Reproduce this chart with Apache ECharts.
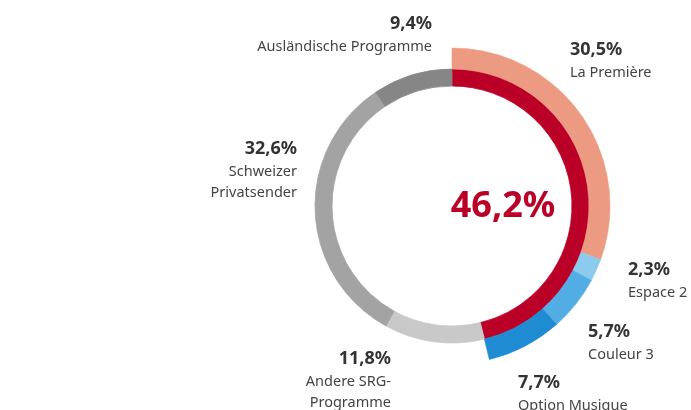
<!DOCTYPE html>
<html>
<head>
<meta charset="utf-8">
<script src="https://cdn.jsdelivr.net/npm/echarts@6/dist/echarts.min.js"></script>
<style>
  html, body { margin: 0; padding: 0; background: #fff; }
  #chart { width: 691px; height: 410px; }
</style>
</head>
<body>
<div id="chart"></div>
<script>
// Radionutzung – Anteile (Westschweiz)
var names = ['La Première', 'Espace 2', 'Couleur 3', 'Option Musique',
             'Andere SRG-\nProgramme', 'Schweizer\nPrivatsender', 'Ausländische Programme'];
var values = [30.5, 2.3, 5.7, 7.7, 11.8, 32.6, 9.4];
var isSrg = [true, true, true, true, false, false, false];

var srgColors = ['#ec9a82', '#8ccbee', '#52ade4', '#1e8bd2'];
var greyColors = ['#c9c9c9', '#a3a3a3', '#868686'];
var red = '#bb0027';

// label placement (x, y, align)
var labelPos = [
  [570, 37, 'left'],
  [628, 257, 'left'],
  [588, 319, 'left'],
  [518, 370, 'left'],
  [391, 346, 'right'],
  [297, 136, 'right'],
  [432, 11, 'right']
];

function fmt(v) { return v.toFixed(1).replace('.', ','); }

var srgTotal = 0;
values.forEach(function (v, i) { if (isSrg[i]) srgTotal += v; });

var inner = values.map(function (v, i) {
  var c = isSrg[i] ? red : greyColors[i - 4];
  return { value: v, name: names[i],
    itemStyle: { color: c, borderColor: c, borderWidth: 0.8 } };
});
var outer = values.map(function (v, i) {
  var c = isSrg[i] ? srgColors[i] : 'rgba(0,0,0,0)';
  return { value: v, name: names[i],
    itemStyle: { color: c, borderColor: c, borderWidth: isSrg[i] ? 0.6 : 0 } };
});

var chart = echarts.init(document.getElementById('chart'));
var option = {
  backgroundColor: '#fff',
  animation: false,
  textStyle: { fontFamily: 'Noto Sans' },
  series: [
    {
      type: 'pie',
      silent: true,
      center: [452, 206],
      radius: [120, 137],
      startAngle: 90,
      clockwise: true,
      label: { show: false },
      labelLine: { show: false },
      data: inner
    },
    {
      type: 'pie',
      silent: true,
      center: [452, 206],
      radius: [137, 158],
      startAngle: 90,
      clockwise: true,
      labelLine: { show: false },
      label: {
        show: true,
        overflow: 'none',
        formatter: function (p) { return '{p|' + fmt(p.value) + '%}\n' + p.name.split('\n').map(function (s) { return '{n|' + s + '}'; }).join('\n'); },
        rich: {
          p: { fontFamily: 'Noto Sans', fontSize: 18, fontWeight: 'bold', color: '#333', lineHeight: 25 },
          n: { fontFamily: 'Noto Sans', fontSize: 14.5, color: '#444', lineHeight: 21 }
        }
      },
      labelLayout: function (params) {
        var p = labelPos[params.dataIndex];
        return { x: p[0], y: p[1], align: p[2], verticalAlign: 'top' };
      },
      data: outer
    }
  ],
  graphic: [{
    type: 'text',
    x: 503,
    y: 207,
    style: {
      text: fmt(srgTotal) + '%',
      align: 'center',
      verticalAlign: 'middle',
      textAlign: 'center',
      textVerticalAlign: 'middle',
      font: 'bold 36px "Noto Sans"',
      fill: red
    }
  }]
};
chart.setOption(option);
</script>
</body>
</html>
